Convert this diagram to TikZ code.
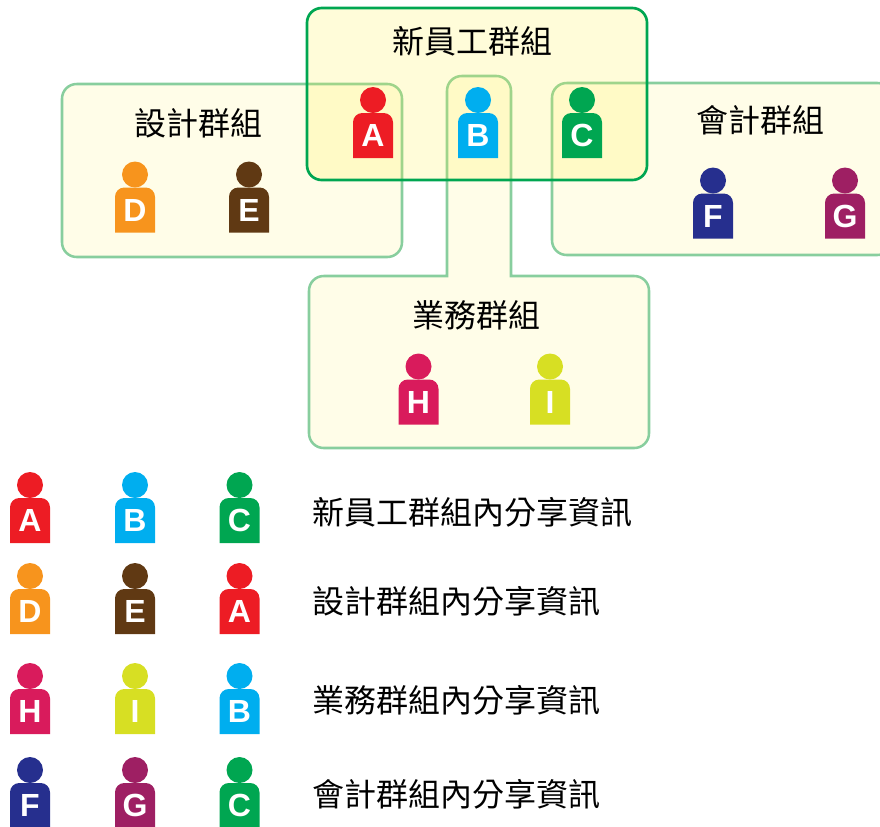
\documentclass[tikz,border=0pt]{standalone}
\usepackage{fontspec}
\setsansfont{Liberation Sans}
\newfontfamily\cjk{Noto Sans CJK TC}
\definecolor{colA}{HTML}{ED1C24}
\definecolor{colB}{HTML}{00AEEF}
\definecolor{colC}{HTML}{00A651}
\definecolor{colD}{HTML}{F7941D}
\definecolor{colE}{HTML}{603913}
\definecolor{colF}{HTML}{262F8E}
\definecolor{colG}{HTML}{9E1F63}
\definecolor{colH}{HTML}{D91B5C}
\definecolor{colI}{HTML}{D7DF23}
\definecolor{boxline}{HTML}{88CE9E}
\definecolor{boxfill}{HTML}{FFEE40}
\tikzset{
    x=0.75pt, y=-0.75pt,
    groupbox/.style={draw=boxline, line width=1.9pt, rounded corners=11pt, fill=boxfill, fill opacity=0.12},
    newbox/.style={draw=colC, line width=2pt, rounded corners=11pt, fill=boxfill, fill opacity=0.2},
    grouptext/.style={font=\cjk\fontsize{24}{26}\selectfont},
    sharetext/.style={font=\cjk\fontsize{24}{26}\selectfont, anchor=west},
    letter/.style={font=\sffamily\bfseries\fontsize{24}{26}\selectfont, text=white, inner sep=0pt},
    head/.style={circle, inner sep=0pt, minimum size=19.5pt}
}
% one person: name, x, y of the head, colour, letter
\newcommand{\person}[5]{
    \node[head, fill=#4] (#1) at (#2,#3) {};
    \fill[#4] (#2-20,#3+58) [rounded corners=7pt] -- (#2-20,#3+13) -- (#2+20,#3+13)
        [sharp corners] -- (#2+20,#3+58) -- cycle;
    \node[letter] (#1text) at (#2,#3+35.5) {#5};
}
\begin{document}
\begin{tikzpicture}

    \useasboundingbox (0,0) rectangle (880,826);
    \clip (0,0) rectangle (880,826);

    % design group
    \draw[groupbox] (62,84) rectangle (402,257);
    \node[grouptext] (designname) at (198,123) {設計群組};

    % accounting group
    \draw[groupbox] (552,83) rectangle (892,255);
    \node[grouptext] (accountname) at (760,120) {會計群組};

    % sales group, with its arm up to B
    \draw[groupbox] (447,150) [rounded corners=11pt] -- (447,76) -- (511,76) [sharp corners] -- (511,276)
        [rounded corners=11pt] -- (649,276) -- (649,448) -- (309,448) -- (309,276) [sharp corners] -- (447,276) -- cycle;
    \node[grouptext] (salesname) at (476,315) {業務群組};

    % new staff group
    \draw[newbox] (307,8) rectangle (647,180);
    \node[grouptext] (newname) at (472,41) {新員工群組};

    %%%%%%%%%%%%%%%%%%%%%%%%%%%%%%%%%%%%%%%%%%%%%%%%%%%%%%%%%

    % people in the groups
    \person{groupA}{373}{100}{colA}{A}
    \person{groupB}{478}{100}{colB}{B}
    \person{groupC}{582}{100}{colC}{C}
    \person{groupD}{135}{174.5}{colD}{D}
    \person{groupE}{249}{174.5}{colE}{E}
    \person{groupF}{713}{180.5}{colF}{F}
    \person{groupG}{845}{180.5}{colG}{G}
    \person{groupH}{418.5}{366.5}{colH}{H}
    \person{groupI}{550}{366.5}{colI}{I}

    %%%%%%%%%%%%%%%%%%%%%%%%%%%%%%%%%%%%%%%%%%%%%%%%%%%%%%%%%

    % first row
    \person{rowoneA}{30}{485}{colA}{A}
    \person{rowoneB}{135}{485}{colB}{B}
    \person{rowoneC}{239.5}{485}{colC}{C}
    \node[sharetext] (rowonetext) at (308,512) {新員工群組內分享資訊};

    % second row
    \person{rowtwoD}{30}{576}{colD}{D}
    \person{rowtwoE}{135}{576}{colE}{E}
    \person{rowtwoA}{239.5}{576}{colA}{A}
    \node[sharetext] (rowtwotext) at (308,601) {設計群組內分享資訊};

    % third row
    \person{rowthreeH}{30}{676}{colH}{H}
    \person{rowthreeI}{135}{676}{colI}{I}
    \person{rowthreeB}{239.5}{676}{colB}{B}
    \node[sharetext] (rowthreetext) at (308,700) {業務群組內分享資訊};

    % fourth row
    \person{rowfourF}{30}{770}{colF}{F}
    \person{rowfourG}{135}{770}{colG}{G}
    \person{rowfourC}{239.5}{770}{colC}{C}
    \node[sharetext] (rowfourtext) at (308,794) {會計群組內分享資訊};

\end{tikzpicture}
\end{document}
